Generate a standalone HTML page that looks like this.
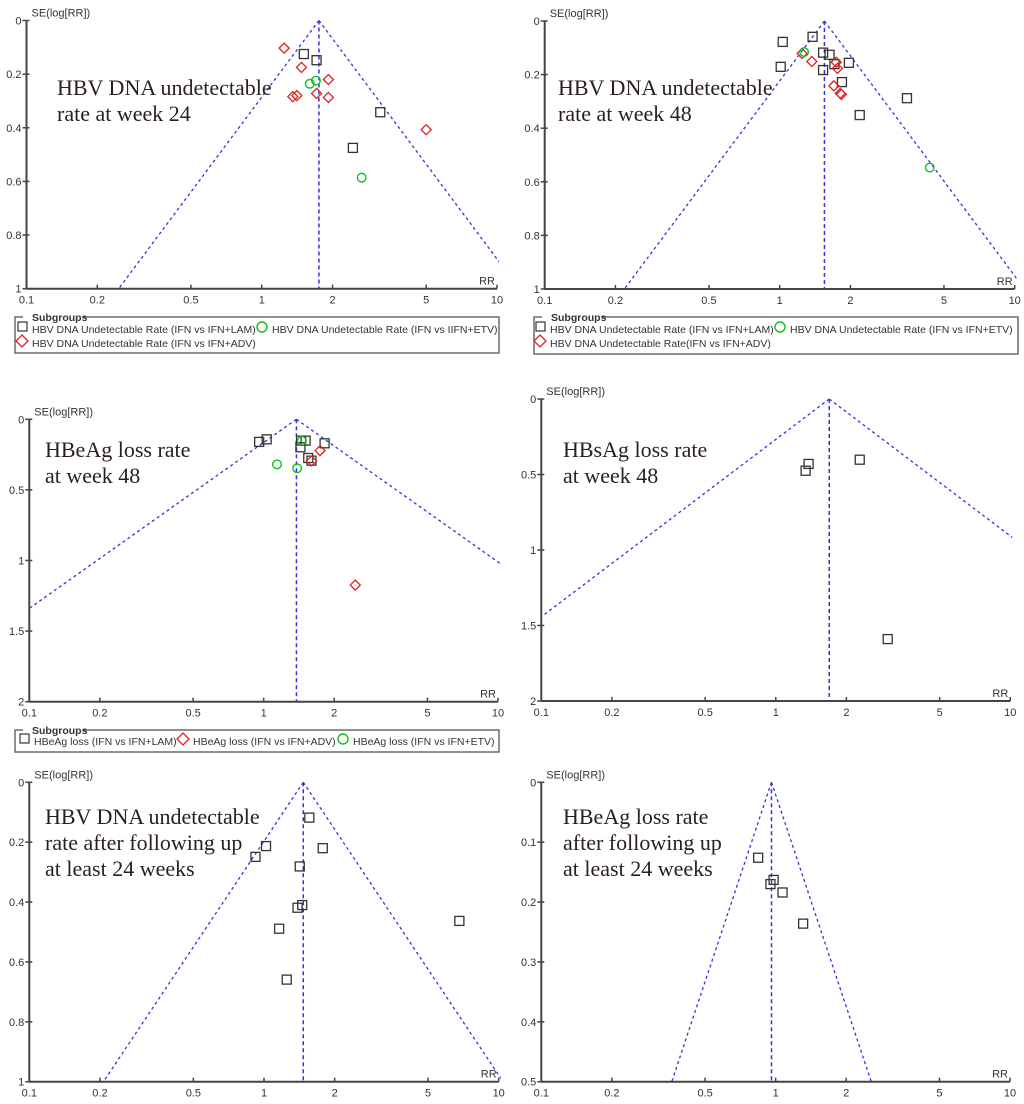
<!DOCTYPE html>
<html><head><meta charset="utf-8">
<style>
html,body{margin:0;padding:0;background:#fff;}
svg{display:block;}
.tk{font-family:"Liberation Sans",sans-serif;font-size:11px;fill:#333;}
.lg{font-family:"Liberation Sans",sans-serif;font-size:10.5px;fill:#333;}
.ttl{font-family:"Liberation Serif",serif;font-size:22px;fill:#2a1f1f;}
</style></head>
<body>
<svg id="fig" width="1024" height="1104" viewBox="0 0 1024 1104" xmlns="http://www.w3.org/2000/svg"></svg>
<script>
// ---- Panel data (RR, SE) ----
const p1SqRR=[1.51,1.71,3.19,2.44];
const p1SqSE=[0.125,0.148,0.342,0.475];
const p1DiRR=[1.245,1.475,1.92,1.71,1.355,1.41,1.92,5.0];
const p1DiSE=[0.103,0.175,0.22,0.272,0.284,0.28,0.287,0.407];
const p1CiRR=[1.6,1.70,2.66];
const p1CiSE=[0.236,0.224,0.586];
const p1Center=1.75;

const p2SqRR=[1.03,1.38,1.01,1.53,1.63,1.71,1.53,1.97,1.84,2.19,3.48];
const p2SqSE=[0.078,0.059,0.171,0.118,0.126,0.161,0.183,0.156,0.228,0.351,0.288];
const p2DiRR=[1.245,1.37,1.74,1.76,1.70,1.83,1.81];
const p2DiSE=[0.121,0.151,0.154,0.177,0.242,0.274,0.27];
const p2CiRR=[1.27,4.35];
const p2CiSE=[0.116,0.547];
const p2Center=1.55;

const p3SqRR=[0.957,1.03,1.445,1.51,1.435,1.82,1.55,1.60];
const p3SqSE=[0.16,0.142,0.151,0.151,0.198,0.17,0.274,0.293];
const p3DiRR=[1.74,1.60,2.46];
const p3DiSE=[0.222,0.295,1.174];
const p3CiRR=[1.14,1.39,1.455];
const p3CiSE=[0.319,0.347,0.153];
const p3Center=1.38;

const p4SqRR=[1.38,1.34,2.28,3.0];
const p4SqSE=[0.43,0.475,0.402,1.59];
const p4Center=1.69;

const p5SqRR=[1.56,1.02,0.92,1.78,1.42,1.455,1.39,1.16,1.25,6.8];
const p5SqSE=[0.118,0.213,0.249,0.22,0.281,0.41,0.419,0.489,0.659,0.463];
const p5Center=1.47;

const p6SqRR=[0.842,0.98,0.95,1.07,1.31];
const p6SqSE=[0.126,0.163,0.170,0.184,0.236];
const p6Center=0.96;

const xTickVals=[0.1,0.2,0.5,1,2,5,10];
const xTickLabels=["0.1","0.2","0.5","1","2","5","10"];
const yTicks1=[0,0.2,0.4,0.6,0.8,1];
const yTicks3=[0,0.5,1,1.5,2];
const yTicks6=[0,0.1,0.2,0.3,0.4,0.5];
const yTickLabels1=["0","0.2","0.4","0.6","0.8","1"];
const yTickLabels3=["0","0.5","1","1.5","2"];
const yTickLabels6=["0","0.1","0.2","0.3","0.4","0.5"];

const NS="http://www.w3.org/2000/svg";
const fig=document.getElementById('fig');
function mk(tag,attrs,parent){const e=document.createElementNS(NS,tag);for(const k in attrs)e.setAttribute(k,attrs[k]);(parent||fig).appendChild(e);return e;}

function panel(cfg){
  const g=mk('g',{});
  
  
  const {x0,x1,y0,y1,ymax}=cfg;
  const xs=v=>x0+(Math.log10(v)+1)/2*(x1-x0);
  const ys=s=>y0+s/ymax*(y1-y0);
  const cid='clip-'+cfg.name;
  const cp=mk('clipPath',{id:cid},g);
  mk('rect',{x:x0,y:y0-3,width:x1-x0+2,height:y1-y0+3},cp);
  const fg=mk('g',{'clip-path':'url(#'+cid+')'},g);
  const c=cfg.center, lc=Math.log(c);
  const sEnd=ymax;
  const lx=v=>xs(Math.exp(v));
  const left=mk('line',{x1:xs(c),y1:ys(0),x2:lx(lc-1.96*sEnd),y2:ys(sEnd),stroke:'#3333dd','stroke-width':1.3,'stroke-dasharray':'3,3'},fg);
  
  
  const right=mk('line',{x1:xs(c),y1:ys(0),x2:lx(lc+1.96*sEnd),y2:ys(sEnd),stroke:'#3333dd','stroke-width':1.3,'stroke-dasharray':'3,3'},fg);
  
  
  const mid=mk('line',{x1:xs(c),y1:ys(0),x2:xs(c),y2:y1,stroke:'#3333dd','stroke-width':1.5,'stroke-dasharray':'4,3'},fg);
  
  
  const ax=mk('line',{x1:x0,y1:y1,x2:x1,y2:y1,stroke:'#444','stroke-width':2},g);
  
  
  const ay=mk('line',{x1:x0,y1:y0,x2:x0,y2:y1,stroke:'#444','stroke-width':2},g);
  
  
  xTickVals.forEach((v,i)=>{
    const X=xs(v);
    mk('line',{x1:X,y1:y1,x2:X,y2:y1-4,stroke:'#444','stroke-width':1.5},g);
    const t=mk('text',{x:X,y:y1+15,'text-anchor':'middle',class:'tk'},g);
    t.textContent=xTickLabels[i];
    
    
  });
  cfg.yt.forEach((v,i)=>{
    const Y=ys(v);
    mk('line',{x1:x0-4,y1:Y,x2:x0+3,y2:Y,stroke:'#444','stroke-width':1.5},g);
    const t=mk('text',{x:x0-5,y:Y+4,'text-anchor':'end',class:'tk'},g);
    t.textContent=cfg.ytl[i];
    
    
  });
  const yt=mk('text',{x:x0+5,y:y0-4,class:'tk'},g);
  yt.textContent='SE(log[RR])';
  
  
  const xt=mk('text',{x:x1-2,y:y1-4,'text-anchor':'end',class:'tk'},g);
  xt.textContent='RR';
  
  
  cfg.title.forEach((line,i)=>{
    const t=mk('text',{x:cfg.tx,y:cfg.ty+i*26,class:'ttl'},g);
    t.textContent=line;
    
    
  });
  (cfg.sq||[[],[]])[0].forEach((rr,i)=>{
    const X=xs(rr),Y=ys(cfg.sq[1][i]);
    const r=mk('rect',{x:X-4.5,y:Y-4.5,width:9,height:9,fill:'none',stroke:'#333','stroke-width':1.3},g);
    
    
  });
  if(cfg.di) cfg.di[0].forEach((rr,i)=>{
    const X=xs(rr),Y=ys(cfg.di[1][i]);
    const p=mk('polygon',{points:`${X},${Y-5} ${X+5},${Y} ${X},${Y+5} ${X-5},${Y}`,fill:'none',stroke:'#e02020','stroke-width':1.3},g);
    
    
  });
  if(cfg.ci) cfg.ci[0].forEach((rr,i)=>{
    const X=xs(rr),Y=ys(cfg.ci[1][i]);
    const p=mk('circle',{cx:X,cy:Y,r:4.3,fill:'none',stroke:'#10c020','stroke-width':1.4},g);
    
    
  });
}

panel({name:'panel-hbv-dna-week24',x0:26.5,x1:497,y0:20.5,y1:288.7,ymax:1,center:p1Center,yt:yTicks1,ytl:yTickLabels1,
  title:['HBV DNA undetectable','rate at week 24'],tx:57,ty:95,sq:[p1SqRR,p1SqSE],di:[p1DiRR,p1DiSE],ci:[p1CiRR,p1CiSE]});
panel({name:'panel-hbv-dna-week48',x0:544.7,x1:1014.7,y0:21,y1:289,ymax:1,center:p2Center,yt:yTicks1,ytl:yTickLabels1,
  title:['HBV DNA undetectable','rate at week 48'],tx:558,ty:95,sq:[p2SqRR,p2SqSE],di:[p2DiRR,p2DiSE],ci:[p2CiRR,p2CiSE]});
panel({name:'panel-hbeag-week48',x0:29.3,x1:498,y0:419.3,y1:701.7,ymax:2,center:p3Center,yt:yTicks3,ytl:yTickLabels3,
  title:['HBeAg loss rate','at week 48'],tx:45,ty:457,sq:[p3SqRR,p3SqSE],di:[p3DiRR,p3DiSE],ci:[p3CiRR,p3CiSE]});
panel({name:'panel-hbsag-week48',x0:541.3,x1:1010.3,y0:399,y1:701,ymax:2,center:p4Center,yt:yTicks3,ytl:yTickLabels3,
  title:['HBsAg loss rate','at week 48'],tx:563,ty:457,sq:[p4SqRR,p4SqSE]});
panel({name:'panel-hbv-dna-followup',x0:29.3,x1:498.7,y0:782.3,y1:1081.7,ymax:1,center:p5Center,yt:yTicks1,ytl:yTickLabels1,
  title:['HBV DNA undetectable','rate after following up','at least 24 weeks'],tx:45,ty:824,sq:[p5SqRR,p5SqSE]});
panel({name:'panel-hbeag-followup',x0:541.3,x1:1010,y0:782.3,y1:1081.7,ymax:0.5,center:p6Center,yt:yTicks6,ytl:yTickLabels6,
  title:['HBeAg loss rate','after following up','at least 24 weeks'],tx:563,ty:824,sq:[p6SqRR,p6SqSE]});

function legend(name,x,y,w,h,items){
  const g=mk('g',{});
  
  
  mk('rect',{x:x,y:y,width:w,height:h,fill:'none',stroke:'#555','stroke-width':1.3},g);
  mk('rect',{x:x+8,y:y-6,width:60,height:12,fill:'#fff'},g);
  const t=mk('text',{x:x+17,y:y+4,class:'lg','font-weight':'bold'},g);
  t.textContent='Subgroups';
  
  
  items.forEach(it=>{
    const [kind,ix,iy,label]=it;
    if(kind==='sq') mk('rect',{x:ix-4,y:iy-5,width:9,height:9,fill:'none',stroke:'#333','stroke-width':1.2},g);
    if(kind==='di') mk('polygon',{points:`${ix},${iy-6} ${ix+6},${iy} ${ix},${iy+6} ${ix-6},${iy}`,fill:'none',stroke:'#e02020','stroke-width':1.3},g);
    if(kind==='ci') mk('circle',{cx:ix,cy:iy,r:5,fill:'none',stroke:'#10c020','stroke-width':1.4},g);
    const e=mk('text',{x:ix+10,y:iy+6,class:'lg'},g);
    e.textContent=label;
    
    
  });
}
legend('legend-hbv-week24',15,317,484,36,[
  ['sq',22,327,'HBV DNA Undetectable Rate (IFN vs IFN+LAM)'],
  ['ci',262,327,'HBV DNA Undetectable Rate (IFN vs IIFN+ETV)'],
  ['di',22,341,'HBV DNA Undetectable Rate (IFN vs IFN+ADV)']]);
legend('legend-hbv-week48',534,317,484,37,[
  ['sq',540,327,'HBV DNA Undetectable Rate (IFN vs IFN+LAM)'],
  ['ci',780,327,'HBV DNA Undetectable Rate (IFN vs IFN+ETV)'],
  ['di',540,341,'HBV DNA Undetectable Rate(IFN vs IFN+ADV)']]);
legend('legend-hbeag-week48',15,730,484,22,[
  ['sq',24,739,'HBeAg loss (IFN vs IFN+LAM)'],
  ['di',183,739,'HBeAg loss (IFN vs IFN+ADV)'],
  ['ci',343,739,'HBeAg loss (IFN vs IFN+ETV)']]);
</script>
</body></html>
